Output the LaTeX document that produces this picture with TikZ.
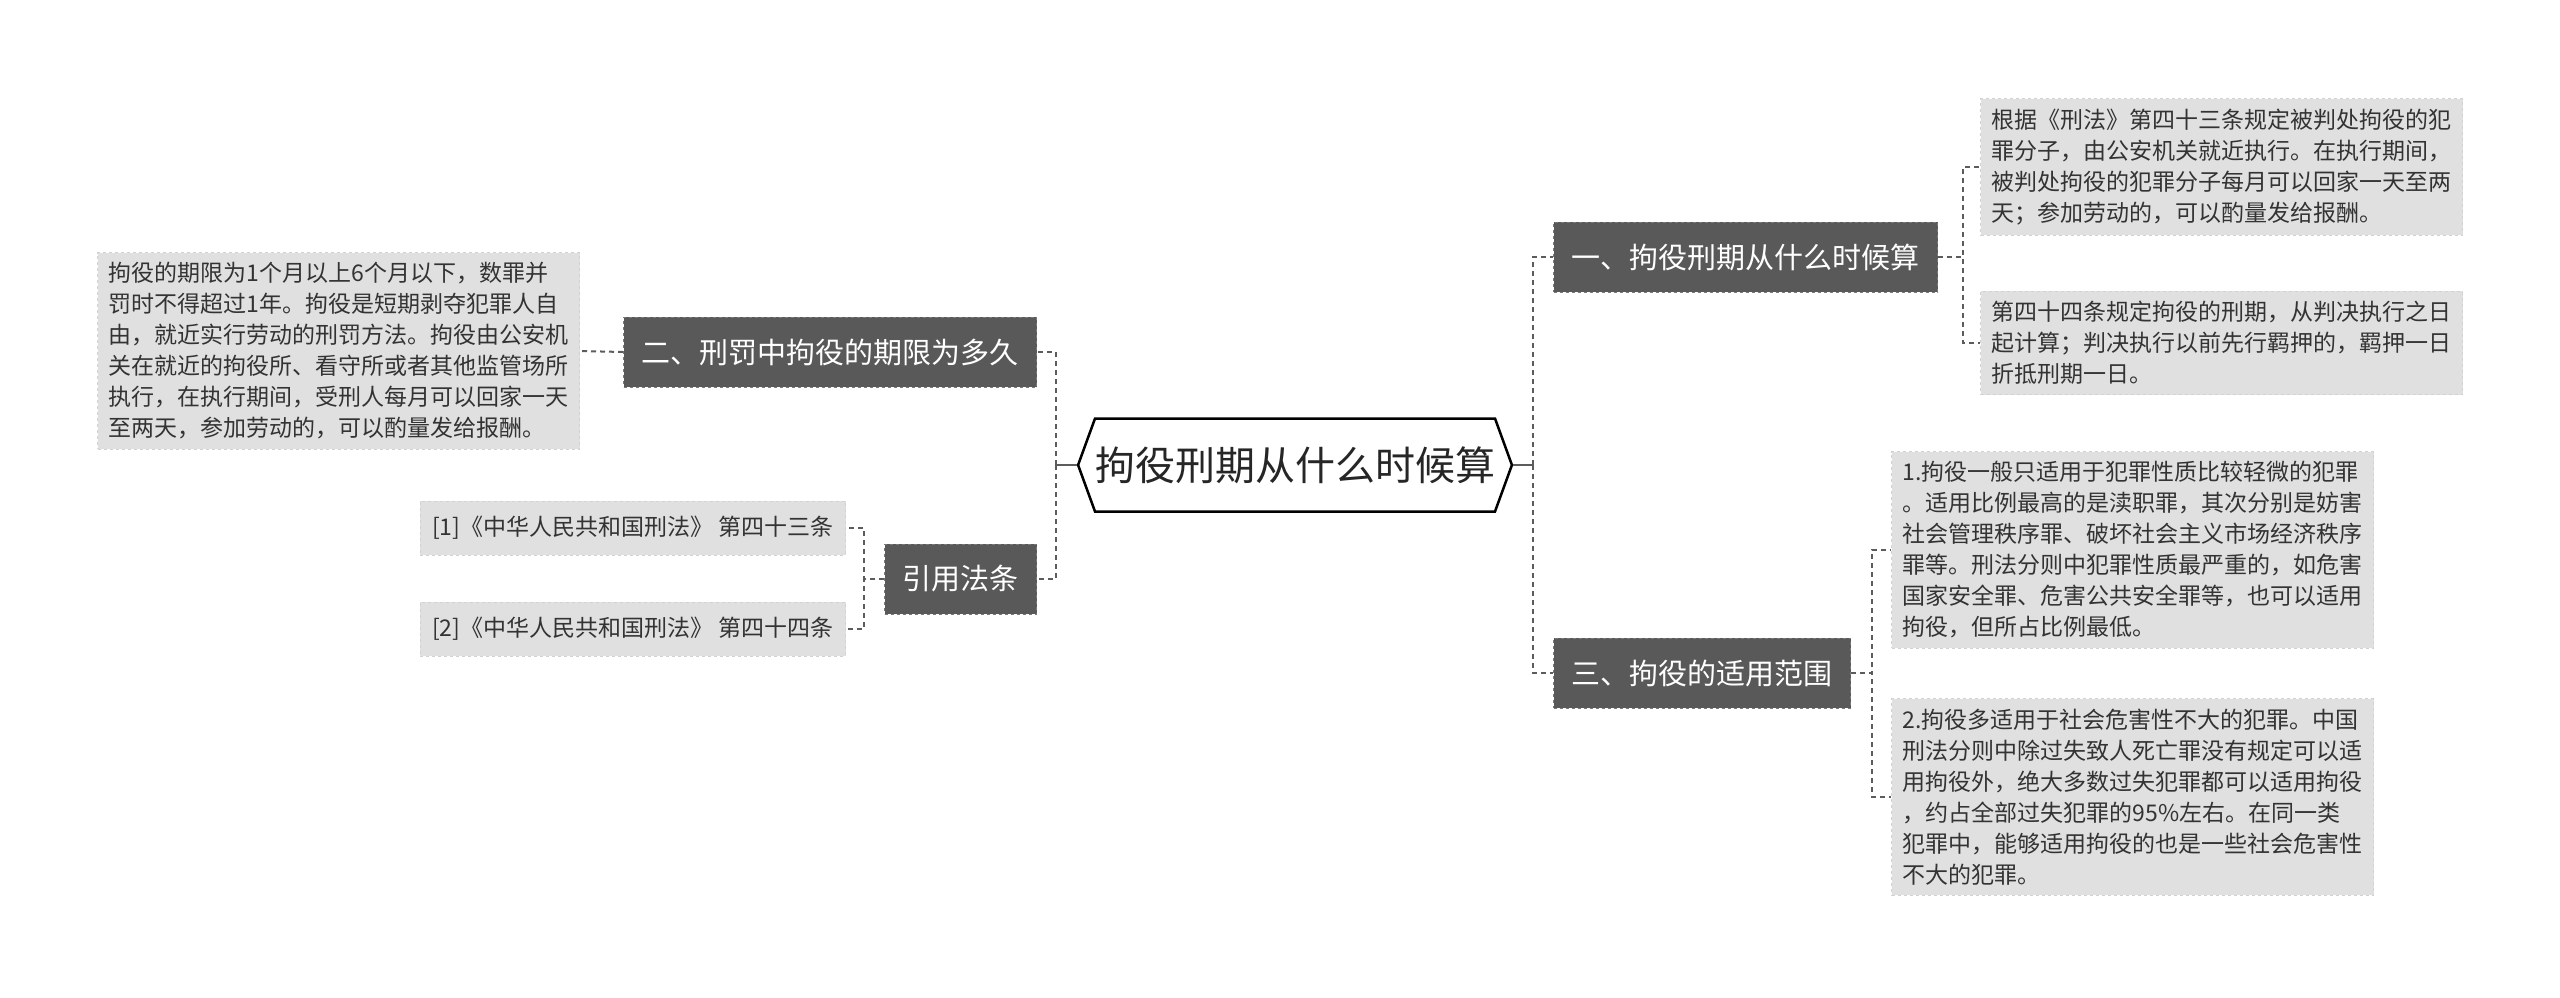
\documentclass[tikz,border=0pt]{standalone}
\usepackage{fontspec}
\setmainfont{Noto Sans CJK SC}
\usetikzlibrary{calc,positioning,shapes.symbols}
\definecolor{Ink}{HTML}{333333}
\definecolor{Dark}{HTML}{595959}
\definecolor{DarkEdge}{HTML}{7A7A7A}
\definecolor{Leaf}{HTML}{E0E0E0}
\definecolor{LeafEdge}{HTML}{D2D2D2}
\definecolor{Wire}{HTML}{5C5C5C}
\tikzset{hub/.style={signal,signal to=west and east,signal pointer angle=140,draw=black,line width=2.5pt,fill=white,inner xsep=0pt,minimum height=93pt,font=\fontsize{40}{46}\selectfont,text=black!85},topic/.style={fill=Dark,draw=DarkEdge,dashed,line width=1pt,text=white,minimum height=70pt,inner xsep=18pt,font=\fontsize{29}{34}\selectfont},leaf/.style={fill=Leaf,draw=LeafEdge,dashed,line width=1pt,text=Ink,align=left,inner xsep=11pt,inner ysep=10pt,minimum width=482pt,font=\fontsize{23}{31}\selectfont},wire/.style={draw=Wire,line width=2pt,dash pattern=on 5pt off 4pt},stem/.style={draw=Wire,line width=2.5pt}}
\begin{document}
\begin{tikzpicture}[x=1pt,y=-1pt]
      \useasboundingbox (0,0) rectangle (2560,997);
      \node[hub](hub) at (1295,465){拘役刑期从什么时候算};
      % left branch
      \node[topic,anchor=east](two) at (1037,352){二、刑罚中拘役的期限为多久};
      \node[topic,anchor=east](cite) at (1037,579){引用法条};
      \node[leaf,anchor=east](limit) at (580,351){拘役的期限为1个月以上6个月以下，数罪并\\罚时不得超过1年。拘役是短期剥夺犯罪人自\\由，就近实行劳动的刑罚方法。拘役由公安机\\关在就近的拘役所、看守所或者其他监管场所\\执行，在执行期间，受刑人每月可以回家一天\\至两天，参加劳动的，可以酌量发给报酬。};
      \node[leaf,anchor=east,minimum width=0pt,minimum height=54pt,inner xsep=12pt](law43) at (846,528){[1]《中华人民共和国刑法》 第四十三条};
      \node[leaf,anchor=east,minimum width=0pt,minimum height=54pt,inner xsep=12pt](law44) at (846,629){[2]《中华人民共和国刑法》 第四十四条};
      % right branch
      \node[topic,anchor=west](one) at (1553,257){一、拘役刑期从什么时候算};
      \node[topic,anchor=west](three) at (1553,673){三、拘役的适用范围};
      \node[leaf,anchor=west](exec) at (1980,167){根据《刑法》第四十三条规定被判处拘役的犯\\罪分子，由公安机关就近执行。在执行期间，\\被判处拘役的犯罪分子每月可以回家一天至两\\天；参加劳动的，可以酌量发给报酬。};
      \node[leaf,anchor=west](count) at (1980,343){第四十四条规定拘役的刑期，从判决执行之日\\起计算；判决执行以前先行羁押的，羁押一日\\折抵刑期一日。};
      \node[leaf,anchor=west](scope1) at (1891,550){1.拘役一般只适用于犯罪性质比较轻微的犯罪\\。适用比例最高的是渎职罪，其次分别是妨害\\社会管理秩序罪、破坏社会主义市场经济秩序\\罪等。刑法分则中犯罪性质最严重的，如危害\\国家安全罪、危害公共安全罪等，也可以适用\\拘役，但所占比例最低。};
      \node[leaf,anchor=west](scope2) at (1891,797){2.拘役多适用于社会危害性不大的犯罪。中国\\刑法分则中除过失致人死亡罪没有规定可以适\\用拘役外，绝大多数过失犯罪都可以适用拘役\\，约占全部过失犯罪的95\%左右。在同一类\\犯罪中，能够适用拘役的也是一些社会危害性\\不大的犯罪。};
      % connectors
      \coordinate(lj) at ($(hub.west)+(-21,0)$);
      \coordinate(rj) at ($(hub.east)+(20,0)$);
      \draw[stem](hub.west)--(lj);\draw[stem](hub.east)--(rj);
      \draw[wire](lj)|-(two.east);\draw[wire](lj)|-(cite.east);
      \draw[wire](rj)|-(one.west);\draw[wire](rj)|-(three.west);
      \draw[wire](two.west)--(limit.east);
      \draw[wire](cite.west)--++(-20,0)|-(law43.east);\draw[wire](cite.west)--++(-20,0)|-(law44.east);
      \draw[wire](one.east)--++(25,0)|-(exec.west);\draw[wire](one.east)--++(25,0)|-(count.west);
      \draw[wire](three.east)--++(21,0)|-(scope1.west);\draw[wire](three.east)--++(21,0)|-(scope2.west);
\end{tikzpicture}
\end{document}
